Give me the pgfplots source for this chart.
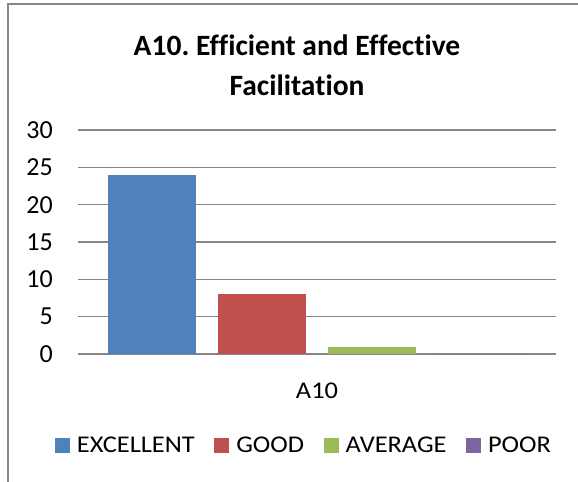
\documentclass[border=0pt]{standalone}
\usepackage{pgfplots}
\pgfplotsset{compat=1.18}
\usepackage{fontspec}
\setmainfont{Carlito}[Ligatures=NoCommon]
\newfontfamily\legfont{Carlito}[FakeStretch=1.1, Ligatures=NoCommon]
\frenchspacing
\definecolor{cBlue}{HTML}{4F81BD}
\definecolor{cRed}{HTML}{C0504D}
\definecolor{cGreen}{HTML}{9BBB59}
\definecolor{cPurple}{HTML}{8064A2}
\definecolor{gridGray}{HTML}{868686}
\definecolor{borderGray}{HTML}{868686}
\begin{document}
\begin{tikzpicture}
\path[use as bounding box] (-78bp,-128bp) rectangle (500bp,354bp);
\draw[line width=1.5bp, color=borderGray] (-70bp,-140bp) -- (-70bp,350bp) -- (520bp,350bp);
\node[anchor=base, inner sep=0pt, font=\fontsize{29.5bp}{35bp}\selectfont\bfseries] at (219bp,298.5bp) {A10. Efficient and Effective};
\node[anchor=base, inner sep=0pt, font=\fontsize{29.5bp}{35bp}\selectfont\bfseries] at (219bp,258bp) {Facilitation};
\begin{axis}[
  scale only axis, width=478bp, height=224bp, at={(0,0)}, anchor=south west,
  xmin=-0.5, xmax=0.5, ymin=0, ymax=30,
  ybar=22bp, bar width=88bp,
  xtick={0}, xticklabels={A10},
  ytick={0,5,...,30},
  ymajorgrids, grid style={line width=1.2bp, color=gridGray},
  axis line style={draw=none},
  major tick length=0pt,
  yticklabel style={font=\fontsize{26bp}{30bp}\selectfont},
  xticklabel style={font=\fontsize{24bp}{30bp}\legfont},
  /pgf/number format/assume math mode=true,
  yticklabel style={anchor=east, inner sep=0pt, xshift=-25bp},
  xticklabel style={anchor=north, inner sep=0pt, yshift=-29bp},
  legend columns=-1,
  legend style={at={(0.4707,-0.4063)}, anchor=center, draw=none, fill=none, inner sep=0pt,
    font=\fontsize{24bp}{30bp}\legfont, nodes={inner sep=0pt},
    /tikz/every odd column/.append style={column sep=7bp},
    /tikz/every even column/.append style={column sep=19.5bp}},
  legend image code/.code={\fill[#1] (0bp,-7.5bp) rectangle (15bp,7.5bp);},
]
\addplot[fill=cBlue, draw=none] coordinates {(0,24)};
\addplot[fill=cRed, draw=none] coordinates {(0,8)};
\addplot[fill=cGreen, draw=none] coordinates {(0,1)};
\addplot[fill=cPurple, draw=none] coordinates {(0,0)};
\legend{EXCELLENT,GOOD,AVERAGE,POOR}
\end{axis}
\end{tikzpicture}
\end{document}
